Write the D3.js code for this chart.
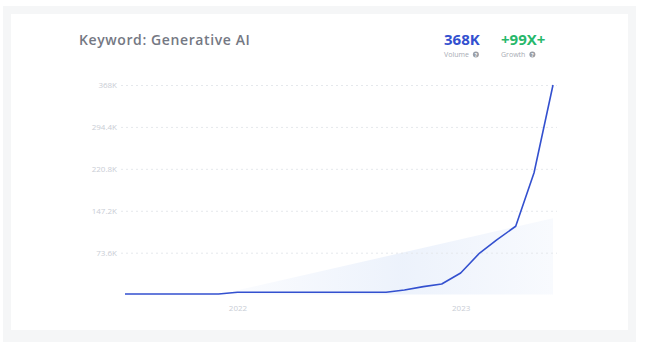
<!DOCTYPE html>
<html>
<head>
<meta charset="utf-8">
<script src="https://cdn.jsdelivr.net/npm/d3@7"></script>
<style>
  html, body { margin: 0; padding: 0; background: #ffffff; }
  svg { display: block; }
  text { font-family: "Open Sans", "Noto Sans", sans-serif; }
</style>
</head>
<body>
<svg id="chart" width="660" height="347"></svg>
<script>
// ---- data ----
const months = ["2021-07","2021-08","2021-09","2021-10","2021-11","2021-12",
  "2022-01","2022-02","2022-03","2022-04","2022-05","2022-06","2022-07","2022-08","2022-09","2022-10","2022-11","2022-12",
  "2023-01","2023-02","2023-03","2023-04","2023-05","2023-06"];
const volume = [1000,1000,1000,1000,1000,1000,
  4000,4000,4000,4000,4000,4000,4000,4000,4000,8000,14000,18500,
  38000,73000,96000,120000,214000,368000];
const trendMonths = ["2021-12","2023-06"];
const trendValues = [0,134000];
const yTicks = [73600,147200,220800,294400,368000];
const yTickLabels = ["73.6K","147.2K","220.8K","294.4K","368K"];
const xTicks = ["2022-01","2023-01"];
const xTickLabels = ["2022","2023"];
const title = "Keyword: Generative AI";
const statValues = ["368K","+99X+"];
const statLabels = ["Volume","Growth"];

// ---- drawing ----
const svg = d3.select("#chart");
const parse = d3.timeParse("%Y-%m");

// frame
svg.append("rect").attr("x",3).attr("y",6).attr("width",633).attr("height",336).attr("fill","#f5f6f7");
svg.append("rect").attr("x",11).attr("y",14).attr("width",617).attr("height",316).attr("fill","#ffffff");

const x = d3.scaleTime()
  .domain([parse(months[0]), parse(months[months.length-1])])
  .range([125, 553]);
const y = d3.scaleLinear().domain([0, 368000]).range([294.6, 85]);

const defs = svg.append("defs");
const grad = defs.append("linearGradient").attr("id","areaGrad")
  .attr("x1","0").attr("y1","0").attr("x2","1").attr("y2","0");
grad.append("stop").attr("offset","0%").attr("stop-color","#e8effb").attr("stop-opacity",0.15);
grad.append("stop").attr("offset","55%").attr("stop-color","#e8effb").attr("stop-opacity",0.8);
grad.append("stop").attr("offset","100%").attr("stop-color","#e8effb").attr("stop-opacity",0.3);

// trend area
const trend = trendMonths.map((m,i)=>({d:parse(m), v:trendValues[i]}));
svg.append("path").datum(trend)
  .attr("fill","url(#areaGrad)")
  .attr("d", d3.area().x(d=>x(d.d)).y0(y(0)).y1(d=>y(d.v)));

// grid
const yAxis = d3.axisLeft(y).tickValues(yTicks)
  .tickFormat((d,i)=>yTickLabels[i]).tickSize(-(557-121)).tickPadding(4);
const gy = svg.append("g").attr("transform","translate(121,0)").call(yAxis);
gy.select(".domain").remove();
gy.selectAll(".tick line").attr("stroke","#e5e8ec").attr("stroke-dasharray","2,3").attr("stroke-width",1);
gy.selectAll(".tick text").attr("fill","#c9cdd5").attr("font-size","8px").attr("x",-4);

const xAxis = d3.axisBottom(x).tickValues(xTicks.map(parse))
  .tickFormat((d,i)=>xTickLabels[i]).tickSize(0).tickPadding(8);
const gx = svg.append("g").attr("transform","translate(0,297)").call(xAxis);
gx.select(".domain").remove();
gx.selectAll(".tick text").attr("fill","#c9cdd5").attr("font-size","8px");

// line
const series = months.map((m,i)=>({d:parse(m), v:volume[i]}));
svg.append("path").datum(series)
  .attr("fill","none").attr("stroke","#3350cf").attr("stroke-width",1.6)
  .attr("stroke-linejoin","round")
  .attr("d", d3.line().x(d=>x(d.d)).y(d=>y(d.v)));

// title
svg.append("text").attr("x",79).attr("y",45).text(title)
  .attr("fill","#747883").attr("font-size","14px").attr("font-weight",600)
  .attr("letter-spacing","0.6px");

// stats
const statX = [444, 501];
const statColors = ["#3350cf","#27b86b"];
statValues.forEach((s,i)=>{
  svg.append("text").attr("x",statX[i]).attr("y",45).text(s)
    .attr("fill",statColors[i]).attr("font-size","15px").attr("font-weight",700);
  const t = svg.append("text").attr("x",statX[i]).attr("y",57).text(statLabels[i])
    .attr("fill","#a8acb4").attr("font-size","7px");
  const w = t.node().getComputedTextLength();
  svg.append("circle").attr("cx",statX[i]+w+7).attr("cy",54.6).attr("r",3)
    .attr("fill","#9a9ea6");
  svg.append("text").attr("x",statX[i]+w+7).attr("y",56.6).text("?")
    .attr("text-anchor","middle").attr("fill","#ffffff").attr("font-size","5px").attr("font-weight",700);
});
</script>
</body>
</html>
